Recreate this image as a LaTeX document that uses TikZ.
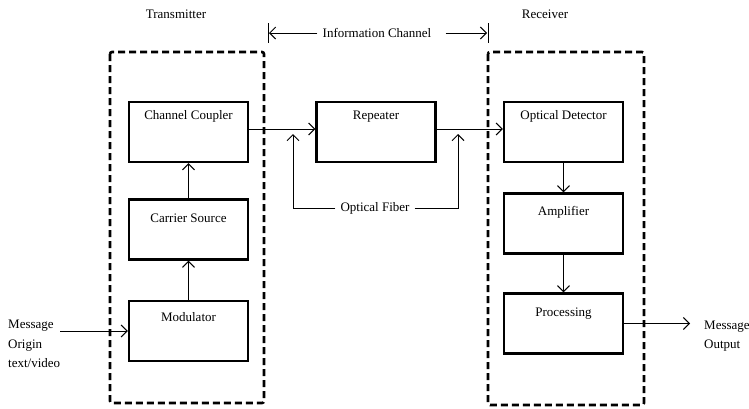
\documentclass[tikz,border=0pt]{standalone}
\usepackage{fontspec}
\setmainfont{Liberation Serif}
\usetikzlibrary{arrows.meta}
\begin{document}
\begin{tikzpicture}[x=1pt,y=-1pt,
  font=\fontsize{13}{15}\selectfont,
  blk/.style={draw, line width=2.4pt, minimum width=119pt, minimum height=60pt, inner sep=0pt},
  dbox/.style={draw, line width=2.6pt, dash pattern=on 7pt off 4pt, rounded corners=2pt},
  arr/.style={line width=1pt, -{Straight Barb[length=6pt,width=12pt,line width=1pt]}},
  ln/.style={line width=1pt}]
\useasboundingbox (0,0) rectangle (749,408);
% dashed groups
\draw[dbox] (110,52) rectangle (264,403);
\draw[dbox] (488,52) rectangle (644,405);
\node (tx) at (176,14) {Transmitter};
\node (rx) at (545,14) {Receiver};
% blocks
\node[blk, label={[anchor=center,yshift=-16pt]north:Channel Coupler}] (cc) at (188.5,132) {};
\node[blk, label={[anchor=center,yshift=-20pt]north:Carrier Source}] (cs) at (188.5,229.5) {};
\node[blk, label={[anchor=center,yshift=-17pt]north:Modulator}] (mod) at (188.5,331) {};
\node[blk, label={[anchor=center,yshift=-16pt]north:Repeater}] (rep) at (376,132) {};
\node[blk, label={[anchor=center,yshift=-16pt]north:Optical Detector}] (od) at (563.5,132) {};
\node[blk, label={[anchor=center,yshift=-20pt]north:Amplifier}] (amp) at (563.5,223.5) {};
\node[blk, label={[anchor=center,yshift=-21pt]north:Processing}] (proc) at (563.5,323.5) {};
% vertical arrows
\draw[arr] (mod.north) -- (cs.south);
\draw[arr] (cs.north) -- (cc.south);
\draw[arr] (od.south) -- (amp.north);
\draw[arr] (amp.south) -- (proc.north);
% horizontal chain
\draw[arr] ([yshift=3pt]cc.east) -- ([yshift=3pt]rep.west);
\draw[arr] ([yshift=3pt]rep.east) -- ([yshift=3pt]od.west);
% optical fiber
\node[inner sep=5pt] (of) at (375,208) {Optical Fiber};
\coordinate (fl) at (293,208);
\coordinate (fr) at (458,208);
\coordinate (tl) at (293,134);
\coordinate (tr) at (458,134);
\draw[arr] (of.west) -- (fl) -- (tl);
\draw[arr] (of.east) -- (fr) -- (tr);
% information channel
\node[inner sep=0pt] (ic) at (377,33) {Information Channel};
\coordinate (il) at (269,33);
\coordinate (ir) at (487,33);
\draw[ln] (268,23) -- (268,43);
\draw[ln] (488,23) -- (488,43);
\draw[arr] ([xshift=-5pt]ic.west) -- (il);
\draw[arr] ([xshift=14pt]ic.east) -- (ir);
% message in / out
\node[anchor=north west, align=left, inner sep=0pt, font=\fontsize{13}{19.5}\selectfont] (min) at (8,320) {Message\\Origin\\text/video};
\coordinate (ms) at (60,331);
\draw[arr] (ms) -- (mod.west);
\node[anchor=north west, align=left, inner sep=0pt, font=\fontsize{13}{18.5}\selectfont] (mout) at (704,321) {Message\\Output};
\coordinate (me) at (690,323.5);
\draw[arr] (proc.east) -- (me);
\end{tikzpicture}
\end{document}
